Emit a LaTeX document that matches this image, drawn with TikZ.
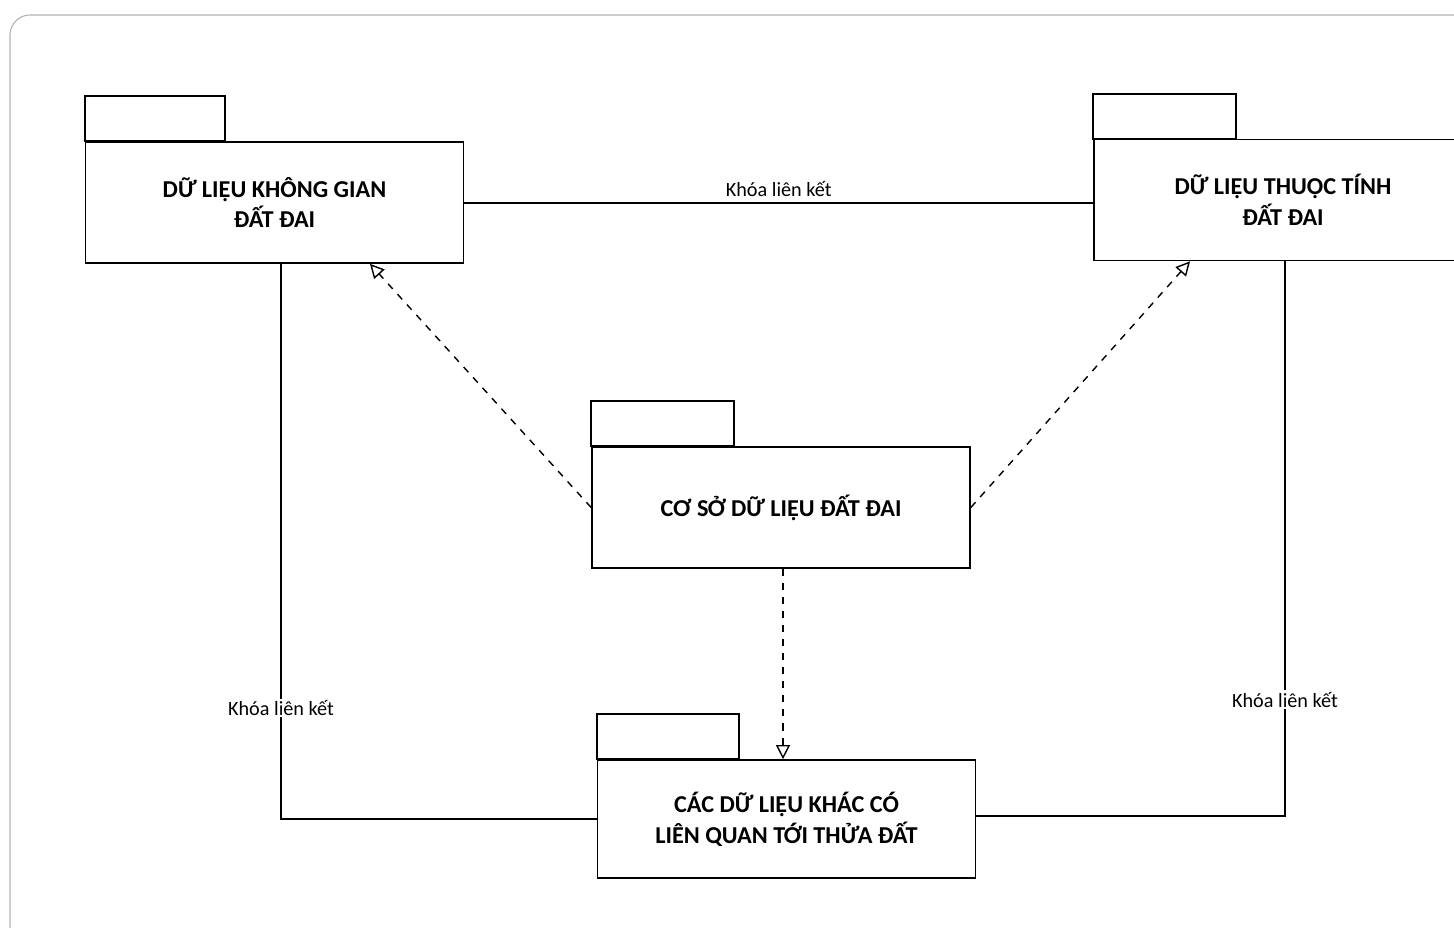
\documentclass[tikz,border=0pt]{standalone}
\usepackage{fontspec}
\setmainfont{Carlito}
\usetikzlibrary{arrows.meta,calc}
\tikzset{>=Stealth,
  pkg/.style={draw,line width=1pt,minimum width=7.56cm,minimum height=2.42cm,align=center,font=\fontsize{13.8}{17.6}\selectfont\bfseries},
  edge/.style={line width=1pt},
  dep/.style={line width=.8pt,dashed,dash pattern=on 4pt off 4pt,-{Triangle[open,length=8pt,width=8pt]}},
  lbl/.style={font=\fontsize{11.5}{13}\selectfont,fill=white,inner sep=1pt},
  frame/.style={gray!60,line width=.6pt}}
\newcommand{\pktab}[2]{\draw[edge] (#1.north west) rectangle ++(#2,-45);}

\begin{document}
\begin{tikzpicture}[x=0.02cm,y=-0.02cm]
\useasboundingbox (0,0) rectangle (1454,928);
\clip (0,0) rectangle (1454,928);
\draw[frame,rounded corners=.4cm] (10,930) |- (1454,15);

\node[pkg] (kg) at (274.5,202.5) {DỮ LIỆU KHÔNG GIAN\\ĐẤT ĐAI};\pktab{kg}{140}
\node[pkg] (tt) at (1283,200) {DỮ LIỆU THUỘC TÍNH\\ĐẤT ĐAI};\pktab{tt}{143}
\node[pkg] (csdl) at (781,507.5) {CƠ SỞ DỮ LIỆU ĐẤT ĐAI};\pktab{csdl}{143}
\node[pkg,minimum height=2.36cm] (khac) at (786.5,819) {CÁC DỮ LIỆU KHÁC CÓ\\LIÊN QUAN TỚI THỬA ĐẤT};\pktab{khac}{142}

% khoa lien ket
\draw[edge] (kg.east |- 0,203) -- node[lbl,above=2pt,fill=none]{Khóa liên kết} (tt.west |- 0,203);
\draw[edge] ([xshift=.13cm]kg.south) |- node[lbl,pos=.4]{Khóa liên kết} (khac.west);
\draw[edge] ([xshift=.04cm]tt.south) |- node[lbl,pos=.395]{Khóa liên kết} ([yshift=.06cm]khac.east);

% phu thuoc
\draw[dep] (csdl.west) -- ([xshift=1.91cm]kg.south);
\draw[dep] (csdl.east) -- ([xshift=-1.86cm]tt.south);
\draw[dep] ([xshift=.04cm]csdl.south) -- ([xshift=.04cm]csdl.south |- khac.north);
\end{tikzpicture}
\end{document}
